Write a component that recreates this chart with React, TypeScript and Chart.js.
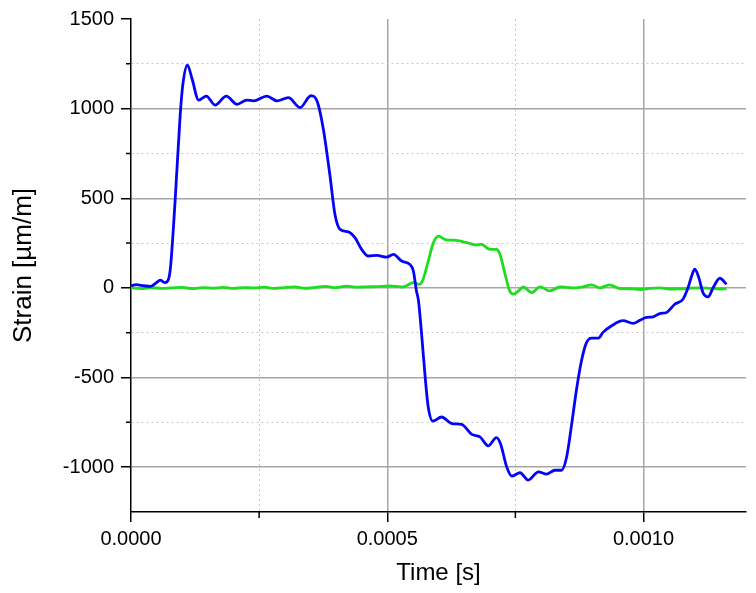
import { useEffect, useRef } from "react"
import { Chart, registerables } from "chart.js"

Chart.register(...registerables)

// Time in microseconds, strain in µm/m
const blueTimes = [
  0, 10, 25, 38, 50, 57, 66, 72, 77, 86, 96, 101, 110, 119, 132, 147, 164, 186, 207, 226, 239, 265, 285, 307,
  330, 351, 363, 375, 388, 398, 408, 424, 437, 450, 463, 480, 499, 512, 528, 544, 551, 557, 561, 567, 574, 580,
  589, 606, 626, 645, 665, 681, 697, 713, 721, 733, 743, 759, 775, 795, 811, 827, 840, 850, 860, 869, 879, 889,
  899, 912, 921, 938, 960, 980, 993, 1006, 1019, 1032, 1045, 1061, 1077, 1087, 1094, 1100, 1108, 1116, 1126,
  1136, 1149, 1162,
]
const blueStrain = [
  12, 18, 12, 8, 30, 43, 30, 40, 113, 483, 965, 1131, 1243, 1168, 1048, 1070, 1020, 1070, 1024, 1048, 1043,
  1070, 1043, 1061, 1006, 1072, 1043, 891, 631, 409, 326, 313, 280, 215, 178, 181, 172, 187, 150, 131, 94, -17,
  -72, -257, -498, -665, -743, -720, -757, -761, -817, -831, -881, -835, -869, -998, -1050, -1031, -1072, -1026,
  -1039, -1017, -1017, -943, -757, -572, -406, -304, -280, -280, -248, -211, -183, -198, -180, -165, -161, -143,
  -137, -91, -63, 2, 67, 104, 57, -26, -50, 2, 54, 20,
]

const greenTimes = [
  0, 20, 40, 60, 80, 100, 120, 140, 160, 180, 200, 220, 240, 260, 280, 300, 320, 340, 360, 380, 400, 420, 440,
  460, 480, 505, 531, 551, 563, 570, 580, 590, 600, 613, 635, 655, 674, 684, 700, 713, 720, 730, 739, 747, 756,
  765, 782, 798, 817, 837, 850, 866, 880, 899, 915, 934, 954, 975, 993, 1012, 1032, 1050, 1071, 1090, 1110, 1130,
  1150, 1162,
]
const greenStrain = [
  0, -4, 2, -3, 0, 3, -4, 2, -2, 3, -3, 2, 0, 4, -3, 2, 5, -2, 3, 8, 2, 10, 4, 6, 7, 11, 5, 30, 20, 48, 150, 252,
  289, 270, 265, 252, 239, 243, 215, 215, 187, 76, -17, -35, -17, 5, -26, 6, -17, 5, 3, 0, 5, 17, 0, 17, -4, -5,
  -9, -3, 0, -6, -5, -2, 0, -3, -6, -5,
]

const xTicks = [0, 0.00025, 0.0005, 0.00075, 0.001]
const xMajor = [0, 0.0005, 0.001]
const yTicks = [-1000, -750, -500, -250, 0, 250, 500, 750, 1000, 1250, 1500]
const yMajor = [-1000, -500, 0, 500, 1000, 1500]

const isMajor = (list: number[], v: number) => list.some((m) => Math.abs(m - v) < 1e-9)

const FONT = "'Liberation Sans', Arial, sans-serif"

const minorTicks = {
  id: "minorTicks",
  afterDraw(chart: any) {
    const { ctx, chartArea, scales } = chart
    ctx.save()
    ctx.strokeStyle = "#000"
    ctx.lineWidth = 1.5
    ctx.beginPath()
    xTicks.filter((v) => !isMajor(xMajor, v)).forEach((v) => {
      const px = scales.x.getPixelForValue(v)
      ctx.moveTo(px, chartArea.bottom)
      ctx.lineTo(px, chartArea.bottom + 6)
    })
    yTicks.filter((v) => !isMajor(yMajor, v)).forEach((v) => {
      const py = scales.y.getPixelForValue(v)
      ctx.moveTo(chartArea.left, py)
      ctx.lineTo(chartArea.left - 5, py)
    })
    ctx.stroke()
    ctx.restore()
  },
}

export default function App() {
  const chartRef = useRef<HTMLCanvasElement>(null)
  const chartInstance = useRef<Chart | null>(null)

  useEffect(() => {
    if (!chartRef.current) return
    if (chartInstance.current) chartInstance.current.destroy()
    const ctx = chartRef.current.getContext("2d")
    if (!ctx) return

    chartInstance.current = new Chart(ctx, {
      type: "line",
      data: {
        datasets: [
          {
            label: "Strain 1",
            data: blueTimes.map((t, i) => ({ x: t * 1e-6, y: blueStrain[i] })),
            borderColor: "#0505f5",
            borderWidth: 2.8,
            pointRadius: 0,
            cubicInterpolationMode: "monotone",
          },
          {
            label: "Strain 2",
            data: greenTimes.map((t, i) => ({ x: t * 1e-6, y: greenStrain[i] })),
            borderColor: "#1edc1e",
            borderWidth: 2.8,
            pointRadius: 0,
            cubicInterpolationMode: "monotone",
          },
        ],
      },
      options: {
        animation: false,
        responsive: true,
        maintainAspectRatio: false,
        layout: { padding: { top: 16, right: 10, left: 0, bottom: 0 } },
        plugins: { legend: { display: false }, tooltip: { enabled: false } },
        scales: {
          x: {
            type: "linear",
            min: 0,
            max: 0.0012,
            afterBuildTicks: (scale: any) => {
              scale.ticks = xTicks.map((v) => ({ value: v }))
            },
            afterFit: (scale: any) => {
              scale.height = 81
            },
            ticks: {
              autoSkip: false,
              maxRotation: 0,
              padding: 5,
              color: "#000",
              font: { family: FONT, size: 20 },
              callback: (v: any) => (isMajor(xMajor, Number(v)) ? Number(v).toFixed(4) : ""),
            },
            grid: {
              color: (c: any) => {
                const v = c.tick?.value
                if (v === undefined || Math.abs(v) < 1e-12) return "rgba(0,0,0,0)"
                return isMajor(xMajor, v) ? "#a6a6a6" : "#c8c8c8"
              },
              lineWidth: (c: any) => (c.tick && isMajor(xMajor, c.tick.value) ? 1.5 : 1),
              tickLength: 10,
              tickWidth: 1.5,
              tickColor: (c: any) => (c.tick && isMajor(xMajor, c.tick.value) ? "#000" : "rgba(0,0,0,0)"),
            },
            border: {
              color: "#000",
              width: 1.5,
              dash: (c: any) => (c.tick && !isMajor(xMajor, c.tick.value) ? [2, 3] : []),
            },
            title: {
              display: true,
              text: "Time [s]",
              color: "#000",
              font: { family: FONT, size: 24 },
              padding: { top: 0, bottom: 5 },
            },
          },
          y: {
            type: "linear",
            min: -1250,
            max: 1500,
            afterBuildTicks: (scale: any) => {
              scale.ticks = yTicks.map((v) => ({ value: v }))
            },
            afterFit: (scale: any) => {
              scale.width = 131
            },
            ticks: {
              autoSkip: false,
              padding: 7,
              color: "#000",
              font: { family: FONT, size: 20 },
              callback: (v: any) => (isMajor(yMajor, Number(v)) ? String(v) : ""),
            },
            grid: {
              color: (c: any) => {
                const v = c.tick?.value
                if (v === undefined || v === 1500) return "rgba(0,0,0,0)"
                return isMajor(yMajor, v) ? "#a6a6a6" : "#c8c8c8"
              },
              lineWidth: (c: any) => (c.tick && isMajor(yMajor, c.tick.value) ? 1.5 : 1),
              tickLength: 10,
              tickWidth: 1.5,
              tickColor: (c: any) => (c.tick && isMajor(yMajor, c.tick.value) ? "#000" : "rgba(0,0,0,0)"),
            },
            border: {
              color: "#000",
              width: 1.5,
              dash: (c: any) => (c.tick && !isMajor(yMajor, c.tick.value) ? [2, 3] : []),
            },
            title: {
              display: true,
              text: "Strain [µm/m]",
              color: "#000",
              font: { family: FONT, size: 26 },
              padding: { top: 8, bottom: 0 },
            },
          },
        },
      },
      plugins: [minorTicks],
    } as any)

    return () => {
      if (chartInstance.current) {
        chartInstance.current.destroy()
        chartInstance.current = null
      }
    }
  }, [])

  return (
    <div style={{ position: "absolute", left: 0, top: 0, width: 756, height: 593, background: "#fff" }}>
      <canvas ref={chartRef} />
    </div>
  )
}
